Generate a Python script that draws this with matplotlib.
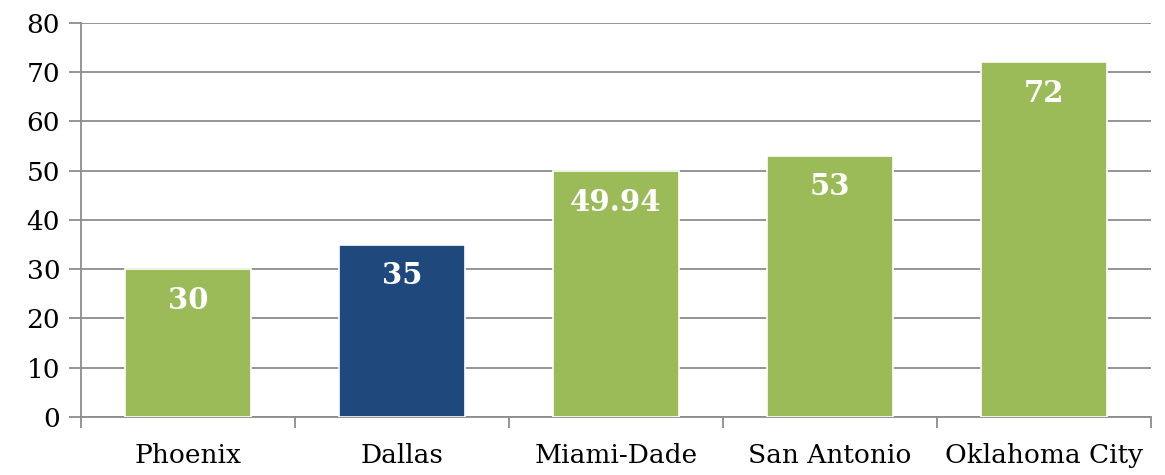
import matplotlib.pyplot as plt

cities = ['Phoenix', 'Dallas', 'Miami-Dade', 'San Antonio', 'Oklahoma City']
values = [30, 35, 49.94, 53, 72]
labels = ['30', '35', '49.94', '53', '72']
colors = ['#9BBB59', '#1F497D', '#9BBB59', '#9BBB59', '#9BBB59']

plt.rcParams['font.family'] = ['DejaVu Serif']

fig = plt.figure(figsize=(11.65, 4.75), dpi=100)
ax = fig.add_axes([0.0695, 0.1221, 0.9185, 0.8295])

x = list(range(len(cities)))
bars = ax.bar(x, values, width=0.585, color=colors, edgecolor='white', linewidth=1.2, zorder=3)
for b, lab in zip(bars, labels):
    ax.text(b.get_x() + b.get_width() / 2, b.get_height() - 6.3, lab, ha='center', va='center',
            color='white', fontsize=21, fontweight='bold', zorder=4)

ax.set_xlim(-0.5, 4.5)
ax.set_ylim(0, 80)
ax.set_yticks(range(0, 81, 10))
ax.yaxis.grid(True, color='#8c8c8c', linewidth=1.3, zorder=0)
ax.set_xticks([i - 0.5 for i in range(6)], minor=False)
ax.set_xticklabels([])
ax.set_xticks(x, minor=True)
ax.set_xticklabels(cities, minor=True, fontsize=19)
ax.tick_params(axis='x', which='minor', length=0, pad=19)
ax.tick_params(axis='x', which='major', length=8, color='#8c8c8c', width=1.3)
ax.tick_params(axis='y', length=9, color='#8c8c8c', width=1.3, labelsize=19, pad=6)
for s in ['top', 'right']:
    ax.spines[s].set_visible(False)
for s in ['left', 'bottom']:
    ax.spines[s].set_color('#8c8c8c')
    ax.spines[s].set_linewidth(1.3)

plt.savefig('out.png', dpi=100)
